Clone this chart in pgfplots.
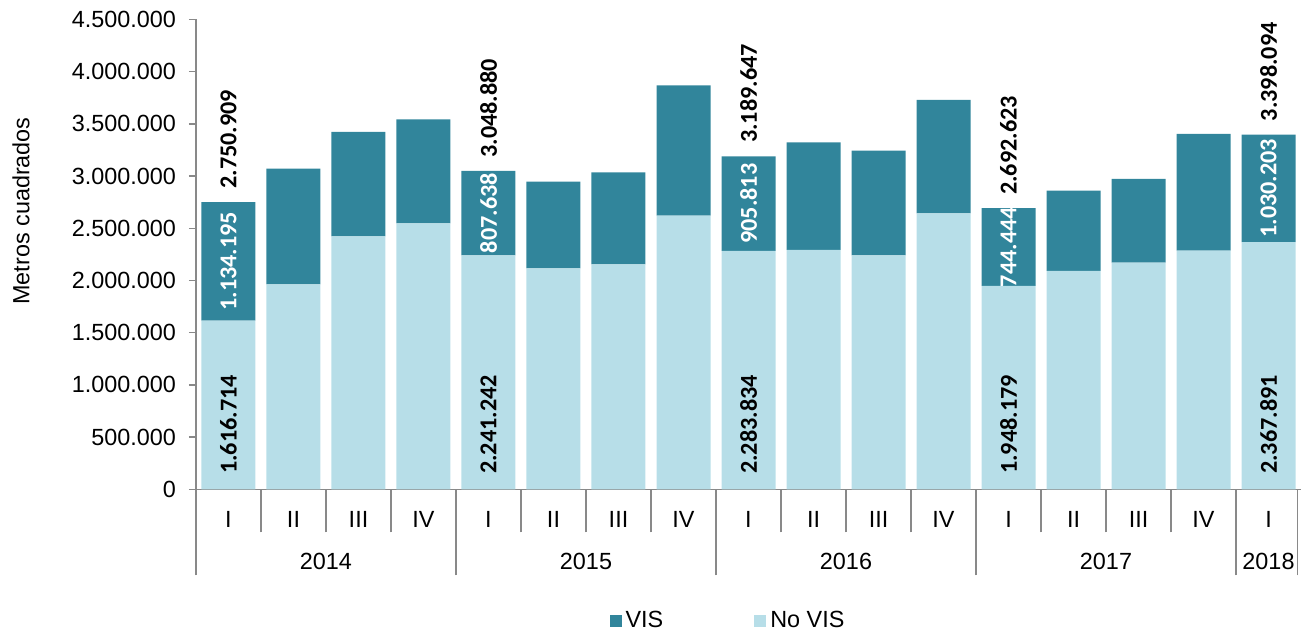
\documentclass[border=0pt]{standalone}
\usepackage{pgfplots}
\pgfplotsset{compat=1.18}
\usepackage{pgfplotstable}
\usepackage{fontspec}
\setmainfont{Liberation Sans}
\newfontfamily\carlito{Carlito}
\newcommand\lbl{\carlito\bfseries\fontsize{12.1}{14}\selectfont}
\newcommand\txt{\fontsize{11.7}{14}\selectfont}
\definecolor{vis}{HTML}{31859B}
\definecolor{novis}{HTML}{B7DEE8}
\definecolor{axgray}{HTML}{898989}

\pgfplotstableread[col sep=comma]{
x,zero,novis,vis,mid,tot,lnovis,lvis,ltot
0,0,1616714,1134195,2183811.5,2750909,1.616.714,1.134.195,2.750.909
1,0,1963600,1107300,2517250,3070900,,,
2,0,2423400,999000,2922900,3422400,,,
3,0,2547900,996100,3045950,3544000,,,
4,0,2241242,807638,2645061,3048880,2.241.242,807.638,3.048.880
5,0,2116800,829500,2531550,2946300,,,
6,0,2155200,881200,2595800,3036400,,,
7,0,2620700,1249000,3245200,3869700,,,
8,0,2283834,905813,2736740.5,3189647,2.283.834,905.813,3.189.647
9,0,2292100,1031600,2807900,3323700,,,
10,0,2241400,1001900,2742350,3243300,,,
11,0,2643700,1085200,3186300,3728900,,,
12,0,1948179,744444,2320401,2692623,1.948.179,744.444,2.692.623
13,0,2091000,769200,2475600,2860200,,,
14,0,2170500,801700,2571350,2972200,,,
15,0,2285400,1117800,2844300,3403200,,,
16,0,2367891,1030203,2882992.5,3398094,2.367.891,1.030.203,3.398.094
}\datatable

\begin{document}
\begin{tikzpicture}
\begin{axis}[
  name=ax,
  scale only axis, width=552.5pt, height=234.9pt,
  ybar stacked, bar width=27pt,
  xmin=-0.5, xmax=16.5, ymin=0, ymax=4500000,
  clip=false,
  axis lines*=left,
  axis line style={draw=axgray, line width=0.7pt},
  tick align=outside,
  major tick length=3.5pt,
  minor tick length=21.5pt,
  ytick distance=500000,
  scaled y ticks=false,
  ytick style={draw=axgray, line width=0.7pt},
  yticklabel style={/pgf/number format/fixed, /pgf/number format/1000 sep={.}, /pgf/number format/assume math mode=true, font=\txt, xshift=-3pt},
  xtick={0,...,16},
  xticklabels={I,II,III,IV,I,II,III,IV,I,II,III,IV,I,II,III,IV,I},
  major x tick style={draw=none},
  minor xtick={0.5,1.5,2.5,4.5,5.5,6.5,8.5,9.5,10.5,12.5,13.5,14.5},
  minor x tick style={draw=axgray, line width=0.7pt},
  extra x ticks={-0.5,3.5,7.5,11.5,15.5,16.45},
  extra x tick labels={},
  extra x tick style={major tick length=43pt, major x tick style={draw=axgray, line width=0.7pt}},
  xticklabel style={font=\txt, anchor=center, yshift=-11.35pt},
  ylabel={Metros cuadrados},
  ylabel style={font=\txt, at={(axis description cs:-0.1584,0.5924)}, anchor=center},
  legend columns=2,
  reverse legend,
  legend style={draw=none, fill=none, font=\txt, at={(0.4824,-0.2803)}, anchor=center,
    /tikz/every even column/.append style={column sep=43.5pt}},
  legend image code/.code={\fill[#1] (0pt,-3pt) rectangle (6pt,3pt);},
]
\addplot[fill=novis, draw=none] table[x=x, y=novis] {\datatable};
\addlegendentry{No VIS}
\addplot[fill=vis, draw=none] table[x=x, y=vis] {\datatable};
\addlegendentry{VIS}
\node[font=\txt] at (axis cs:1.5,0) [yshift=-36.3pt] {2014};
\node[font=\txt] at (axis cs:5.5,0) [yshift=-36.3pt] {2015};
\node[font=\txt] at (axis cs:9.5,0) [yshift=-36.3pt] {2016};
\node[font=\txt] at (axis cs:13.5,0) [yshift=-36.3pt] {2017};
\node[font=\txt] at (axis cs:16,0) [yshift=-36.3pt] {2018};
\end{axis}
\begin{axis}[
  scale only axis, width=552.5pt, height=234.9pt,
  xmin=-0.5, xmax=16.5, ymin=0, ymax=4500000,
  hide axis, clip=false,
  nodes near coords, point meta=explicit symbolic,
]
\addplot[draw=none, mark=none, nodes near coords,
  every node near coord/.append style={font=\lbl, text=black, anchor=west, rotate=90, inner xsep=7.5pt, inner ysep=0pt}]
  table[x=x, y=zero, meta=lnovis] {\datatable};
\addplot[draw=none, mark=none, nodes near coords,
  every node near coord/.append style={font=\lbl, text=white, anchor=center, rotate=90, inner sep=0pt}]
  table[x=x, y=mid, meta=lvis] {\datatable};
\addplot[draw=none, mark=none, nodes near coords,
  every node near coord/.append style={font=\lbl, text=black, anchor=west, rotate=90, inner xsep=6.5pt, inner ysep=0pt}]
  table[x=x, y=tot, meta=ltot] {\datatable};
\end{axis}
\pgfresetboundingbox
\path[use as bounding box] ([xshift=-98pt,yshift=-71.85pt]ax.south west) rectangle ([xshift=0.5pt,yshift=9.75pt]ax.north east);
\end{tikzpicture}
\end{document}
